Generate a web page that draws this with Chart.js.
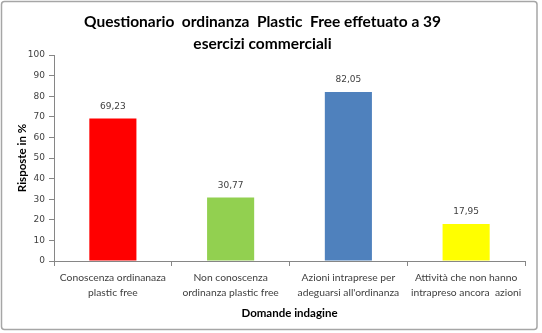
<!DOCTYPE html>
<html>
<head>
<meta charset="utf-8">
<script src="https://cdn.jsdelivr.net/npm/chart.js@4/dist/chart.umd.min.js"></script>
<style>
  html, body { margin: 0; padding: 0; background: #ffffff; }
  #wrap { width: 542px; height: 333px; }
</style>
</head>
<body>
<div id="wrap"><canvas id="c" width="542" height="333"></canvas></div>
<script>
// Survey categories (two-line labels) and answer percentages
const categories = [
  ['Conoscenza ordinanaza', 'plastic free'],
  ['Non conoscenza', 'ordinanza plastic free'],
  ['Azioni intraprese per', 'adeguarsi all\'ordinanza'],
  ['Attività che non hanno', 'intrapreso ancora  azioni']
];
const percentages = [69.23, 30.77, 82.05, 17.95];
const barColors = ['#ff0000', '#92d050', '#4f81bd', '#ffff00'];
const titleLines = ['Questionario  ordinanza  Plastic  Free effetuato a 39', 'esercizi commerciali'];
const yAxisTitle = 'Risposte in %';
const xAxisTitle = 'Domande indagine';

const sansFamily = 'Lato, "Open Sans", "Liberation Sans", sans-serif';
const numFamily = '"DejaVu Sans", Verdana, sans-serif';
const textGray = '#404040';
const axisGray = '#868686';

const fmt = v => v.toFixed(2).replace('.', ',');

// White background and light frame around the whole chart
const framePlugin = {
  id: 'frame',
  beforeDraw(chart) {
    const ctx = chart.ctx;
    ctx.save();
    ctx.fillStyle = '#ffffff';
    ctx.fillRect(0, 0, chart.width, chart.height);
    ctx.strokeStyle = '#a6a6a6';
    ctx.lineWidth = 1.5;
    ctx.beginPath();
    ctx.roundRect(1.5, 1.5, 535.5, 328, 3);
    ctx.stroke();
    ctx.restore();
  }
};

// Value written above each bar
const valueLabels = {
  id: 'valueLabels',
  afterDatasetsDraw(chart) {
    const ctx = chart.ctx;
    const meta = chart.getDatasetMeta(0);
    const data = chart.data.datasets[0].data;
    ctx.save();
    ctx.font = '9px ' + numFamily;
    ctx.fillStyle = textGray;
    ctx.textAlign = 'center';
    ctx.textBaseline = 'middle';
    meta.data.forEach((bar, i) => {
      ctx.fillText(fmt(data[i]), bar.x, bar.y - 12);
    });
    ctx.restore();
  }
};

new Chart(document.getElementById('c'), {
  type: 'bar',
  data: {
    labels: categories,
    datasets: [{
      data: percentages,
      backgroundColor: barColors,
      borderWidth: 0,
      barPercentage: 1,
      categoryPercentage: 0.4
    }]
  },
  options: {
    responsive: false,
    animation: false,
    devicePixelRatio: 1,
    layout: { padding: { left: 0, right: 17, top: 0, bottom: 0 } },
    plugins: {
      legend: { display: false },
      tooltip: { enabled: false },
      title: {
        display: true,
        text: titleLines,
        color: '#000000',
        font: { family: sansFamily, size: 15.5, weight: 'bold', lineHeight: '22px' },
        padding: { top: 11, bottom: 0 }
      }
    },
    scales: {
      x: {
        offset: true,
        afterFit(scale) { scale.height = 72; },
        grid: {
          offset: true,
          drawOnChartArea: false,
          drawTicks: true,
          tickLength: 5,
          color: axisGray
        },
        border: { color: axisGray, width: 1 },
        ticks: {
          color: textGray,
          padding: 4,
          maxRotation: 0,
          autoSkip: false,
          font: { family: sansFamily, size: 10.3, lineHeight: 1.45 }
        },
        title: {
          display: true,
          text: xAxisTitle,
          color: '#000000',
          font: { family: sansFamily, size: 11.5, weight: 'bold' },
          padding: { top: 0, bottom: 13 }
        }
      },
      y: {
        min: 0,
        max: 100,
        afterFit(scale) { scale.width = 54; },
        grid: {
          drawOnChartArea: false,
          drawTicks: true,
          tickLength: 5,
          color: axisGray
        },
        border: { color: axisGray, width: 1 },
        ticks: {
          stepSize: 10,
          color: textGray,
          padding: 4,
          font: { family: numFamily, size: 9 }
        },
        title: {
          display: true,
          text: yAxisTitle,
          color: '#000000',
          font: { family: sansFamily, size: 11.5, weight: 'bold' },
          padding: { top: 15, bottom: 0 }
        }
      }
    }
  },
  plugins: [framePlugin, valueLabels]
});
</script>
</body>
</html>
